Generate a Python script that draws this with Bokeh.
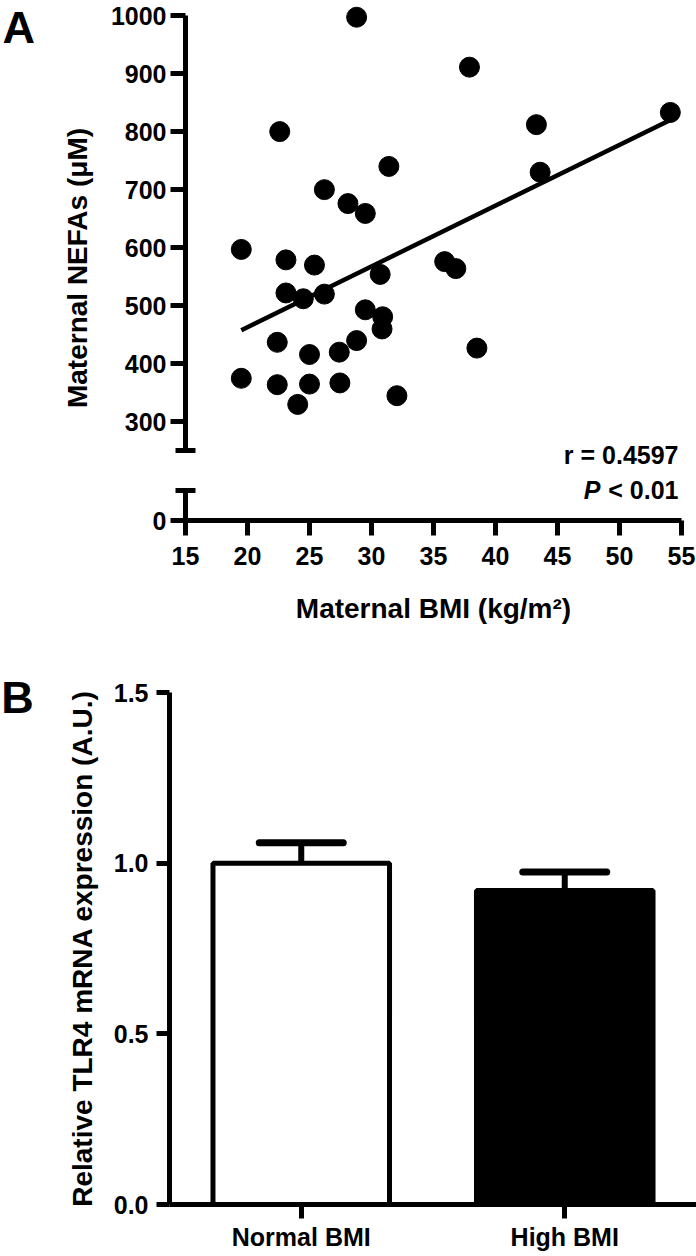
import numpy as np
from bokeh.plotting import figure
from bokeh.models import (Range1d, FactorRange, FixedTicker, Label, Whisker,
                          TeeHead, ColumnDataSource)
from bokeh.core.properties import value
from bokeh.embed import file_html
from bokeh.resources import INLINE

# ---------------- Panel A data ----------------
bmi = [19.5, 19.5, 22.6, 22.4, 22.4, 23.1, 23.1, 24.5, 26.2, 25.4, 26.2,
       28.1, 29.5, 28.8, 37.9, 43.3, 43.6, 54.1, 31.4, 35.9, 36.8, 30.7,
       29.5, 30.9, 30.85, 28.8, 27.4, 25.0, 25.0, 27.45, 24.05, 32.05, 38.5]
nefa = [375, 597, 800, 437, 364, 579, 522, 512, 520, 570, 700,
        676, 659, 997, 911, 812, 730, 833, 740, 576, 564, 554,
        493, 481, 460, 440, 420, 416, 365, 367, 330, 345, 427]
x_ticks_a = [15, 20, 25, 30, 35, 40, 45, 50, 55]
y_ticks_a = [300, 400, 500, 600, 700, 800, 900, 1000]
r_text = "r = 0.4597"
p_text = "< 0.01"

# ---------------- Panel B data ----------------
groups = ["Normal BMI", "High BMI"]
means = [1.00, 0.92]
upper = [1.06, 0.974]
bar_colors = ["white", "black"]
y_ticks_b = [0.0, 0.5, 1.0, 1.5]
y_labels_b = ["0.0", "0.5", "1.0", "1.5"]

FONT = "Liberation Sans"
LW = 5

# axis break: lower stub (0..52) drawn at 130..182, upper part 250..1000
BREAK_OFFSET = 130
STUB_TOP = 182
UPPER_START = 250

pA = figure(width=696, height=640, x_range=Range1d(15, 55),
            y_range=Range1d(BREAK_OFFSET, 1000),
            output_backend="svg", toolbar_location=None,
            min_border_left=185, min_border_right=15, min_border_top=15,
            min_border_bottom=120, outline_line_color=None,
            background_fill_color="white")
pA.grid.visible = False

slope, intercept = np.polyfit(bmi, nefa, 1)
fx = np.array([min(bmi), max(bmi)])
pA.line(fx, slope * fx + intercept, line_color="black", line_width=4.5)
pA.scatter(bmi, nefa, size=20, fill_color="black", line_color="black",
           level="overlay")


def style_axis(ax, tick_font="25px"):
    ax.axis_line_width = LW
    ax.axis_line_color = "black"
    ax.major_tick_line_width = LW
    ax.major_tick_line_color = "black"
    ax.major_tick_in = 0
    ax.major_tick_out = 15
    ax.minor_tick_line_color = None
    ax.major_label_text_font = FONT
    ax.major_label_text_font_style = "bold"
    ax.major_label_text_font_size = tick_font
    ax.major_label_text_color = "black"
    ax.axis_label_text_font = FONT
    ax.axis_label_text_font_style = "bold"
    ax.axis_label_text_font_size = "28px"
    ax.axis_label_text_color = "black"


xa = pA.xaxis[0]
style_axis(xa)
xa.ticker = FixedTicker(ticks=x_ticks_a)
xa.major_label_standoff = 11
xa.axis_label = "Maternal BMI (kg/m²)"
xa.axis_label_standoff = 25

ya = pA.yaxis[0]
style_axis(ya)
ya.ticker = FixedTicker(ticks=[BREAK_OFFSET] + y_ticks_a,
                        minor_ticks=[STUB_TOP, UPPER_START])
ya.major_label_overrides = {BREAK_OFFSET: "0"}
ya.minor_tick_line_color = "black"
ya.minor_tick_line_width = LW
ya.minor_tick_in = 10
ya.minor_tick_out = 10
ya.major_label_standoff = 4
ya.axis_label = "Maternal NEFAs (μM)"
ya.axis_label_standoff = 15
ya.axis_line_dash = "30 40 436 200"

pA.add_layout(Label(x=55, y=242, text=r_text, text_align="right",
                    text_baseline="alphabetic", x_offset=-3,
                    text_font=FONT, text_font_style="bold",
                    text_font_size="25px", text_color="black"))
pA.add_layout(Label(x=55, y=182, text=p_text, text_align="right",
                    text_baseline="alphabetic", x_offset=-3,
                    text_font=FONT, text_font_style="bold",
                    text_font_size="25px", text_color="black"))
pA.add_layout(Label(x=55, y=182, text="P", text_align="right",
                    text_baseline="alphabetic", x_offset=-81,
                    text_font=FONT, text_font_style="bold italic",
                    text_font_size="25px", text_color="black"))
# panel letter, anchored at the top-left corner of the frame
pA.text(x=[15], y=[1000], text=["A"], x_offset=-183, y_offset=12,
        text_align="left", text_baseline="alphabetic",
        text_font=value(FONT), text_font_style="bold",
        text_font_size="45px", text_color="black", level="overlay")

# ---------------- Panel B ----------------
pB = figure(width=696, height=614, x_range=FactorRange(*groups),
            y_range=Range1d(0, 1.5),
            output_backend="svg", toolbar_location=None,
            min_border_left=169, min_border_right=0, min_border_top=52,
            min_border_bottom=50, outline_line_color=None,
            background_fill_color="white")
pB.grid.visible = False

src = ColumnDataSource(dict(g=groups, mean=means, upper=upper, color=bar_colors))
pB.add_layout(Whisker(source=src, base="g", lower="mean", upper="upper",
                      line_width=6, line_color="black", lower_head=None,
                      upper_head=TeeHead(size=84, line_width=7,
                                         line_color="black", line_cap="round")))
pB.vbar(x="g", top="mean", width=0.67, source=src, fill_color="color",
        line_color="black", line_width=LW)

xb = pB.xaxis[0]
style_axis(xb)
xb.major_tick_out = 14
xb.major_label_standoff = 4

yb = pB.yaxis[0]
style_axis(yb)
yb.ticker = FixedTicker(ticks=y_ticks_b)
yb.major_label_overrides = {t: l for t, l in zip(y_ticks_b, y_labels_b)}
yb.major_tick_out = 13
yb.major_label_standoff = 8
yb.axis_label = "Relative TLR4 mRNA expression (A.U.)"
yb.axis_label_standoff = 13

pB.text(x=[groups[0]], y=[1.5], text=["B"], x_offset=-300, y_offset=5,
        text_align="left", text_baseline="alphabetic",
        text_font=value(FONT), text_font_style="bold",
        text_font_size="45px", text_color="black", level="overlay")

open("out.html", "w").write(file_html([pA, pB], INLINE))
